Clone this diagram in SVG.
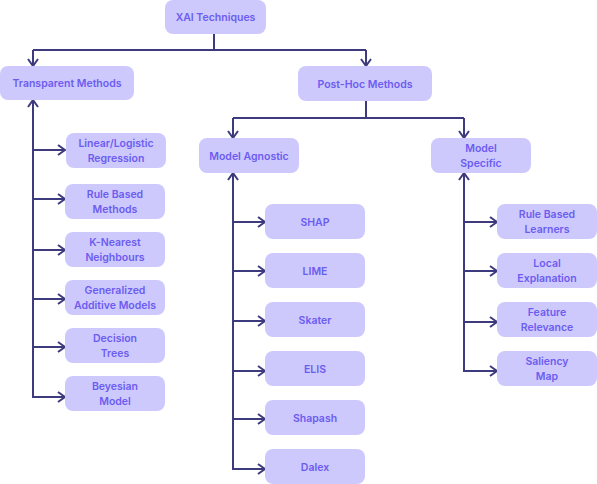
<svg xmlns="http://www.w3.org/2000/svg" width="597" height="484" viewBox="0 0 597 484">
<style>
.n rect{fill:#cdc9fd}
.n text{font-family:Inter,"Noto Sans",sans-serif;font-weight:600;font-size:10.5px;fill:#6c5cf0;text-anchor:middle}
.c path{fill:none;stroke:#3d3a7e;stroke-width:2}
</style>
<defs>
<marker id="a" viewBox="0 0 10 12" refX="9" refY="6" markerWidth="10" markerHeight="12" markerUnits="userSpaceOnUse" orient="auto">
<path d="M2,1 L9,6 L2,11" fill="none" stroke="#3d3a7e" stroke-width="2"/>
</marker>
</defs>
<rect width="597" height="484" fill="#fff"/>
<g class="c">
<path d="M214,34 V50"/>
<path d="M33,50 H366"/>
<path d="M33,50 V66" marker-end="url(#a)"/>
<path d="M366,50 V66" marker-end="url(#a)"/>
<path d="M366,101 V118"/>
<path d="M233,118 H464"/>
<path d="M233,118 V138" marker-end="url(#a)"/>
<path d="M464,118 V138" marker-end="url(#a)"/>
<path d="M33,398 V100" marker-end="url(#a)"/>
<path d="M33,150 H65" marker-end="url(#a)"/>
<path d="M33,199 H65" marker-end="url(#a)"/>
<path d="M33,250 H65" marker-end="url(#a)"/>
<path d="M33,299 H65" marker-end="url(#a)"/>
<path d="M33,347 H65" marker-end="url(#a)"/>
<path d="M32,397 H65" marker-end="url(#a)"/>
<path d="M233,470 V173" marker-end="url(#a)"/>
<path d="M233,222 H265" marker-end="url(#a)"/>
<path d="M233,271 H265" marker-end="url(#a)"/>
<path d="M233,321 H265" marker-end="url(#a)"/>
<path d="M233,371 H265" marker-end="url(#a)"/>
<path d="M233,419 H265" marker-end="url(#a)"/>
<path d="M232,469 H265" marker-end="url(#a)"/>
<path d="M464,372 V173" marker-end="url(#a)"/>
<path d="M464,222 H497" marker-end="url(#a)"/>
<path d="M464,271 H497" marker-end="url(#a)"/>
<path d="M464,322 H497" marker-end="url(#a)"/>
<path d="M463,371 H497" marker-end="url(#a)"/>
</g>
<g id="xai" class="n"><rect x="165" y="0" width="101" height="34" rx="8"/><text x="215.5" y="21">XAI Techniques</text></g>
<g id="transparent" class="n"><rect x="0" y="66" width="134" height="34" rx="8"/><text x="67" y="87">Transparent Methods</text></g>
<g id="posthoc" class="n"><rect x="298" y="66" width="134" height="35" rx="8"/><text x="365" y="87.5">Post-Hoc Methods</text></g>
<g id="agnostic" class="n"><rect x="199" y="138" width="100" height="35" rx="8"/><text x="249" y="159.5">Model Agnostic</text></g>
<g id="specific" class="n"><rect x="431" y="138" width="100" height="35" rx="8"/><text x="481" y="152">Model</text><text x="481" y="167">Specific</text></g>
<g id="linear" class="n"><rect x="66" y="133" width="100" height="35" rx="8"/><text x="116" y="147">Linear/Logistic</text><text x="116" y="162">Regression</text></g>
<g id="rulebased" class="n"><rect x="65" y="184" width="100" height="35" rx="8"/><text x="115" y="198">Rule Based</text><text x="115" y="213">Methods</text></g>
<g id="knn" class="n"><rect x="65" y="232" width="100" height="35" rx="8"/><text x="115" y="246">K-Nearest</text><text x="115" y="261">Neighbours</text></g>
<g id="gam" class="n"><rect x="65" y="280" width="100" height="35" rx="8"/><text x="115" y="294">Generalized</text><text x="115" y="309">Additive Models</text></g>
<g id="dtree" class="n"><rect x="65" y="328" width="100" height="35" rx="8"/><text x="115" y="342">Decision</text><text x="115" y="357">Trees</text></g>
<g id="bayes" class="n"><rect x="65" y="376" width="100" height="35" rx="8"/><text x="115" y="390">Beyesian</text><text x="115" y="405">Model</text></g>
<g id="shap" class="n"><rect x="265" y="204" width="100" height="35" rx="8"/><text x="315" y="225.5">SHAP</text></g>
<g id="lime" class="n"><rect x="265" y="253" width="100" height="35" rx="8"/><text x="315" y="274.5">LIME</text></g>
<g id="skater" class="n"><rect x="265" y="302" width="100" height="35" rx="8"/><text x="315" y="323.5">Skater</text></g>
<g id="elis" class="n"><rect x="265" y="351" width="100" height="35" rx="8"/><text x="315" y="372.5">ELIS</text></g>
<g id="shapash" class="n"><rect x="265" y="400" width="100" height="35" rx="8"/><text x="315" y="421.5">Shapash</text></g>
<g id="dalex" class="n"><rect x="265" y="449" width="100" height="35" rx="8"/><text x="315" y="470.5">Dalex</text></g>
<g id="rbl" class="n"><rect x="497" y="204" width="100" height="35" rx="8"/><text x="547" y="218">Rule Based</text><text x="547" y="233">Learners</text></g>
<g id="local" class="n"><rect x="497" y="253" width="100" height="35" rx="8"/><text x="547" y="267">Local</text><text x="547" y="282">Explanation</text></g>
<g id="feature" class="n"><rect x="497" y="302" width="100" height="35" rx="8"/><text x="547" y="316">Feature</text><text x="547" y="331">Relevance</text></g>
<g id="saliency" class="n"><rect x="497" y="351" width="100" height="35" rx="8"/><text x="547" y="365">Saliency</text><text x="547" y="380">Map</text></g>
</svg>
